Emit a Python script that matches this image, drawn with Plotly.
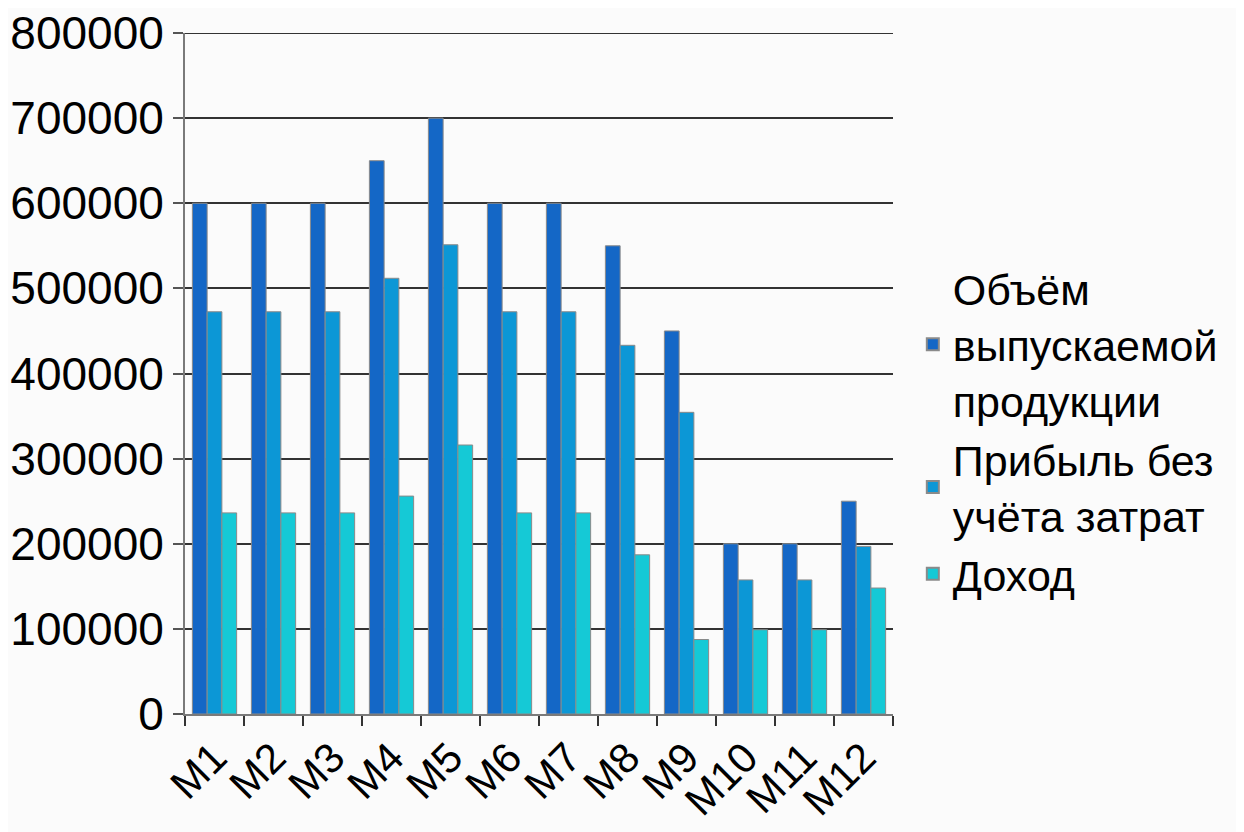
import plotly.graph_objects as go

categories = ["M1", "M2", "M3", "M4", "M5", "M6", "M7", "M8", "M9", "M10", "M11", "M12"]
volume = [600000, 600000, 600000, 650000, 700000, 600000, 600000, 550000, 450000, 200000, 200000, 250000]
profit = [472500, 472500, 472500, 511875, 551250, 472500, 472500, 433125, 354375, 157500, 157500, 196875]
income = [236250, 236250, 236250, 256000, 316000, 236250, 236250, 187000, 87500, 99000, 99000, 148000]
y_max = 800000

series_names = [
    "Объём<br>выпускаемой<br>продукции",
    "Прибыль без<br>учёта затрат",
    "Доход",
]
colors = ["#1467C6", "#0C97D6", "#15C9D6"]

fig = go.Figure()
for name, vals, col in zip(series_names, [volume, profit, income], colors):
    fig.add_trace(go.Bar(
        x=categories, y=vals, name=name,
        marker=dict(color=col, line=dict(color="#8a8a8a", width=1)),
    ))

font = "Liberation Sans, Arial, sans-serif"
fig.update_layout(
    width=1244, height=832,
    margin=dict(l=177, r=359, t=25, b=126, pad=0, autoexpand=False),
    paper_bgcolor="#fbfbfb", plot_bgcolor="#fbfbfb",
    barmode="group", bargap=0.25, bargroupgap=0,
    font=dict(family=font, color="#000000"),
    legend=dict(
        x=1.028, xanchor="left", y=0.415, yanchor="middle",
        font=dict(size=43, family=font, color="#000"),
        itemsizing="constant", tracegroupgap=0,
        bgcolor="rgba(0,0,0,0)",
    ),
    showlegend=True,
)
# top gridline (coincides with the plot edge)
fig.add_shape(type="line", xref="paper", yref="y", x0=0, x1=1, y0=y_max, y1=y_max,
              line=dict(color="#333333", width=2), layer="below")
fig.update_yaxes(
    range=[0, y_max], dtick=100000, tickformat="d",
    automargin=False,
    showgrid=True, gridcolor="#333333", gridwidth=2,
    showline=True, linecolor="#7a7a7a", linewidth=2,
    ticks="outside", ticklen=10, tickcolor="#555", tickwidth=2,
    tickfont=dict(size=46, family=font, color="#000"),
    ticklabeloverflow="allow",
    zeroline=False,
)
fig.update_xaxes(
    automargin=False,
    showline=True, linecolor="#7a7a7a", linewidth=2,
    ticks="outside", ticklen=10, tickcolor="#333", tickwidth=2,
    tickson="boundaries",
    tickangle=-45,
    tickfont=dict(size=42, family=font, color="#000"),
    showgrid=False,
)
fig.write_html("out.html")
